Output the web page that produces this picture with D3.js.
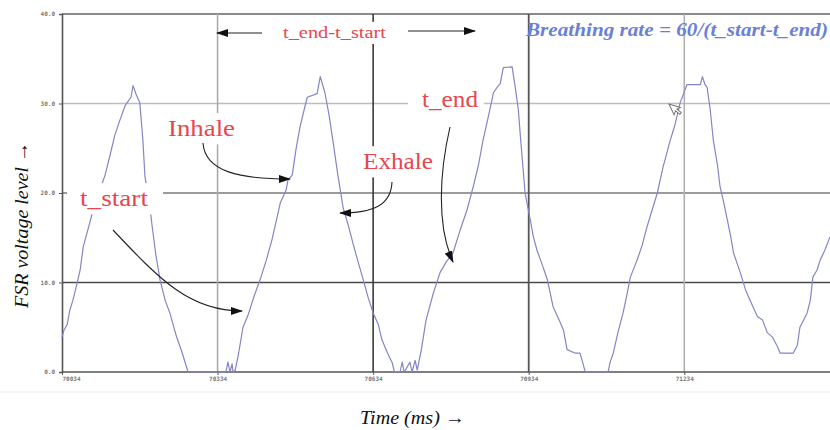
<!DOCTYPE html>
<html>
<head>
<meta charset="utf-8">
<script src="https://cdn.jsdelivr.net/npm/d3@7"></script>
<style>
  body { margin: 0; background: #fff; }
  svg { display: block; }
</style>
</head>
<body>
<div id="chart"></div>
<script>
// Chart size
const width = 830;
const height = 430;

// FSR trace: time (ms) and voltage level
const times = [
  70034, 70038, 70044, 70049, 70055, 70063, 70069, 70075, 70084, 70094,
  70107, 70117, 70127, 70136, 70146, 70156, 70161, 70167, 70171, 70177,
  70184, 70190, 70194, 70202, 70208, 70215, 70223, 70233, 70242, 70254,
  70266, 70277, 70350, 70354, 70358, 70362, 70364, 70368, 70374, 70383,
  70393, 70404, 70416, 70428, 70439, 70455, 70466, 70470, 70478, 70485,
  70493, 70501, 70507, 70526, 70532, 70541, 70549, 70557, 70566, 70576,
  70586, 70595, 70605, 70615, 70624, 70634, 70644, 70651, 70661, 70671,
  70675, 70686, 70690, 70694, 70705, 70709, 70715, 70719, 70727, 70736,
  70750, 70763, 70775, 70788, 70802, 70815, 70827, 70837, 70846, 70856,
  70862, 70866, 70873, 70879, 70885, 70902, 70908, 70914, 70918, 70927,
  70937, 70943, 70950, 70960, 70970, 70981, 70995, 71001, 71008, 71024,
  71033, 71037, 71043, 71087, 71091, 71097, 71106, 71116, 71124, 71130,
  71143, 71153, 71162, 71172, 71182, 71193, 71201, 71207, 71216, 71226,
  71234, 71239, 71265, 71269, 71274, 71278, 71284, 71290, 71298, 71303,
  71311, 71317, 71323, 71329, 71342, 71352, 71361, 71375, 71385, 71394,
  71404, 71414, 71419, 71444, 71452, 71457, 71471, 71477, 71482, 71490,
  71496, 71505, 71515
];
const voltage = [
  3.9, 4.7, 5.3, 6.9, 8.0, 9.9, 11.4, 14.0, 15.9, 18.1,
  20.3, 22.0, 24.3, 26.5, 28.2, 29.8, 30.2, 30.7, 32.0, 31.0,
  30.1, 25.9, 21.8, 19.2, 16.2, 13.1, 10.3, 8.0, 6.6, 4.1,
  2.1, 0.0, 0.0, 1.1, 0.0, 0.9, 0.0, 0.2, 1.9, 5.0,
  6.4, 8.4, 10.3, 12.5, 14.8, 18.9, 20.3, 21.5, 22.0, 24.8,
  27.4, 29.3, 30.7, 31.1, 33.0, 31.2, 28.7, 25.6, 22.0, 18.4,
  16.4, 14.4, 12.3, 10.3, 8.4, 6.6, 5.3, 3.6, 2.2, 1.0,
  0.0, 0.0, 1.1, 0.0, 1.1, 0.0, 1.3, 0.2, 2.5, 5.8,
  8.8, 11.1, 12.3, 13.3, 15.9, 18.1, 20.7, 23.1, 25.9, 28.5,
  30.1, 31.2, 31.8, 32.2, 34.0, 34.1, 31.8, 29.3, 26.3, 20.0,
  17.0, 15.1, 13.6, 12.0, 10.3, 7.3, 5.5, 4.7, 2.5, 2.1,
  2.1, 1.3, 0.0, 0.0, 1.1, 2.1, 4.4, 6.6, 8.8, 10.6,
  12.5, 14.2, 16.2, 18.1, 20.0, 22.9, 24.6, 25.9, 27.6, 30.1,
  31.3, 32.1, 32.1, 33.0, 32.1, 31.8, 29.3, 25.9, 23.1, 20.7,
  18.7, 17.0, 15.3, 13.3, 11.1, 9.2, 8.0, 6.2, 5.8, 4.4,
  3.9, 2.8, 2.1, 2.1, 3.0, 5.0, 6.6, 8.0, 10.6, 11.4,
  12.5, 13.6, 15.1
];

// Axis ticks
const yTicks = [0, 10, 20, 30, 40];
const xTicks = [70034, 70334, 70634, 70934, 71234];

const xStart = 70034;
const xEnd = 71515;

// Gridline looks (screen grab has uneven lines)
const hGridStyle = { 10: ["#4a4a4a", 1.5], 20: ["#7a7a7a", 1.3], 30: ["#bdbdbd", 1.6], 40: ["#8a8a8a", 2] };
const vGridStyle = { 70334: ["#ababab", 1.6], 70634: ["#3a3a3a", 1.6], 70934: ["#555", 1.8], 71234: ["#b0b0b0", 1.6] };

const margin = { top: 14, right: 0, bottom: 58, left: 62 };

const svg = d3.select("#chart").append("svg")
    .attr("width", width)
    .attr("height", height);

const x = d3.scaleLinear()
    .domain([xStart, xEnd])
    .range([margin.left, width - margin.right]);

const y = d3.scaleLinear()
    .domain([0, 40])
    .range([height - margin.bottom, margin.top]);

// arrow head
svg.append("defs").append("marker")
    .attr("id", "head")
    .attr("viewBox", "0 0 12 8")
    .attr("refX", 11)
    .attr("refY", 4)
    .attr("markerWidth", 12)
    .attr("markerHeight", 8)
    .attr("markerUnits", "userSpaceOnUse")
    .attr("orient", "auto")
    .append("path")
    .attr("d", "M0,0 L12,4 L0,8 Z")
    .attr("fill", "#111");

// faint frame line under the grab
svg.append("line")
    .attr("x1", 0).attr("x2", width)
    .attr("y1", 392).attr("y2", 392)
    .attr("stroke", "#ececec");

// horizontal gridlines
svg.append("g").selectAll("line")
    .data(yTicks.filter(d => d > 0))
    .join("line")
    .attr("x1", x(xStart)).attr("x2", width)
    .attr("y1", d => y(d)).attr("y2", d => y(d))
    .attr("stroke", d => hGridStyle[d][0])
    .attr("stroke-width", d => hGridStyle[d][1]);

// vertical gridlines
svg.append("g").selectAll("line")
    .data(xTicks.slice(1))
    .join("line")
    .attr("x1", d => x(d)).attr("x2", d => x(d))
    .attr("y1", y(40)).attr("y2", y(0))
    .attr("stroke", d => vGridStyle[d][0])
    .attr("stroke-width", d => vGridStyle[d][1]);

// axes
const yAxis = svg.append("g")
    .attr("transform", `translate(${margin.left},0)`)
    .call(d3.axisLeft(y).tickValues(yTicks).tickFormat(d3.format(".1f")).tickSize(3).tickPadding(4));

const xAxis = svg.append("g")
    .attr("transform", `translate(0,${y(0)})`)
    .call(d3.axisBottom(x).tickValues(xTicks).tickFormat(d => d).tickSize(3).tickPadding(2));

[yAxis, xAxis].forEach(g => {
    g.select(".domain").attr("stroke", "#555").attr("stroke-width", 1.6);
    g.selectAll(".tick line").attr("stroke", "#555");
    g.selectAll("text")
        .attr("fill", "#777")
        .style("font-family", "DejaVu Sans Mono")
        .style("font-weight", "bold")
        .style("font-size", "6px");
});
xAxis.select(".domain").attr("d", `M${x(xStart)},0H${width}`);
xAxis.select(".tick text").attr("text-anchor", "start");

// the FSR trace
const trace = times.map((t, i) => ({ t, v: voltage[i] }));
const line = d3.line()
    .x(d => x(d.t))
    .y(d => y(d.v));

svg.append("path")
    .datum(trace)
    .attr("d", line)
    .attr("fill", "none")
    .attr("stroke", "#8585c6")
    .attr("stroke-width", 1.2)
    .attr("stroke-linejoin", "round");

// red labels, white boxes pasted over the plot
const labels = [
    { text: "t_end-t_start", x: 283, y: 38, size: 17, w: 103, padL: 18, padR: 18 },
    { text: "Inhale", x: 168, y: 136, size: 24, w: 67, padL: 10, padR: 10 },
    { text: "t_start", x: 80, y: 206, size: 24, w: 68, padL: 13, padR: 15 },
    { text: "Exhale", x: 363, y: 169, size: 24, w: 70, padL: 10, padR: 10 },
    { text: "t_end", x: 422, y: 107, size: 24, w: 56, padL: 14, padR: 6 }
];
svg.append("g").selectAll("rect")
    .data(labels)
    .join("rect")
    .attr("x", d => d.x - d.padL)
    .attr("y", d => d.y - d.size * 0.95)
    .attr("width", d => d.w + d.padL + d.padR)
    .attr("height", d => d.size * 1.3)
    .attr("fill", "#fff");

// mouse pointer left in the grab
svg.append("path")
    .attr("transform", "translate(669,104) rotate(-25)")
    .attr("d", "M0,0 L0,12 L3,9 L5.5,14 L7.5,13 L5,8 L9,8 Z")
    .attr("fill", "#fff")
    .attr("stroke", "#777")
    .attr("stroke-width", 1);

// annotation arrows
const arrows = [
    "M262,33 L217,33",
    "M408,31 L475,31",
    "M203,143 C205,172 240,179 290,179",
    "M392,182 C391,206 372,213 340,213",
    "M450,127 C440,170 436,225 453,262",
    "M113,230 C160,280 190,311 242,311"
];
svg.append("g").selectAll("path")
    .data(arrows)
    .join("path")
    .attr("d", d => d)
    .attr("fill", "none")
    .attr("stroke", "#222")
    .attr("stroke-width", 1.1)
    .attr("marker-end", "url(#head)");

svg.append("g").selectAll("text")
    .data(labels)
    .join("text")
    .attr("x", d => d.x)
    .attr("y", d => d.y)
    .attr("textLength", d => d.w)
    .attr("lengthAdjust", "spacingAndGlyphs")
    .attr("fill", "#e8464e")
    .style("font-family", "Liberation Serif")
    .style("font-size", d => d.size + "px")
    .text(d => d.text);

// formula in blue
svg.append("text")
    .attr("x", 526)
    .attr("y", 36)
    .attr("textLength", 302)
    .attr("lengthAdjust", "spacingAndGlyphs")
    .attr("fill", "#6a7fd8")
    .style("font-family", "Liberation Serif")
    .style("font-style", "italic")
    .style("font-weight", "bold")
    .style("font-size", "19px")
    .text("Breathing rate = 60/(t_start-t_end)");

// axis titles
svg.append("text")
    .attr("transform", "translate(28,225) rotate(-90)")
    .attr("text-anchor", "middle")
    .attr("textLength", 166)
    .attr("lengthAdjust", "spacingAndGlyphs")
    .attr("fill", "#111")
    .style("font-family", "Liberation Serif")
    .style("font-style", "italic")
    .style("font-size", "19px")
    .text("FSR voltage level \u2192");

svg.append("text")
    .attr("x", 360)
    .attr("y", 424)
    .attr("textLength", 105)
    .attr("lengthAdjust", "spacingAndGlyphs")
    .attr("fill", "#111")
    .style("font-family", "Liberation Serif")
    .style("font-style", "italic")
    .style("font-size", "19px")
    .text("Time (ms) \u2192");
</script>
</body>
</html>
